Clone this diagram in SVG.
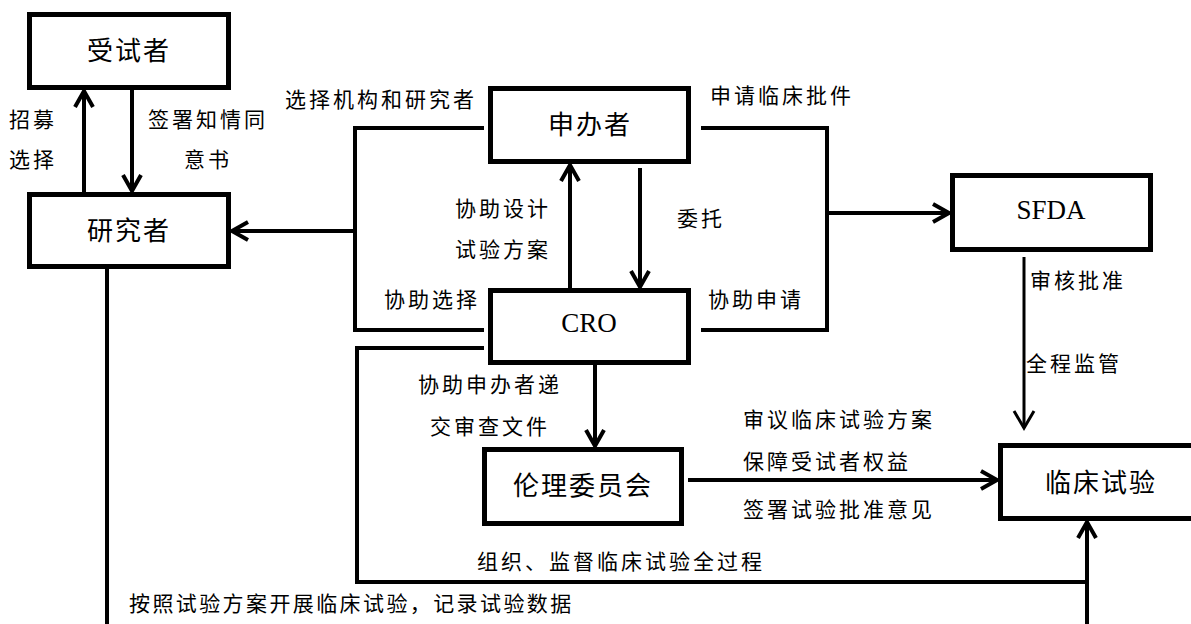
<svg xmlns="http://www.w3.org/2000/svg" width="1191" height="624" viewBox="0 0 1191 624">
<defs>
<style>
.box{fill:#fff;stroke:#000;stroke-width:5}
.ln{fill:none;stroke:#000;stroke-width:4}
.thin{fill:none;stroke:#000;stroke-width:3}
.lbl{font-family:"Noto Sans CJK SC",sans-serif;font-size:21px;letter-spacing:3px;fill:#000;dominant-baseline:central}
.nl{font-family:"Noto Sans CJK SC",sans-serif;font-size:26px;letter-spacing:2px;fill:#000;dominant-baseline:central;text-anchor:middle}
.en{font-family:"Liberation Serif",serif;font-size:27px;fill:#000;dominant-baseline:central;text-anchor:middle}
</style>
<marker id="ah" viewBox="0 0 20 20" refX="18" refY="10" markerWidth="20" markerHeight="20" markerUnits="userSpaceOnUse" orient="auto" overflow="visible">
<path d="M2,1 L18,10 L2,19" fill="none" stroke="#000" stroke-width="4"/>
</marker>
<marker id="ah2" viewBox="0 0 20 20" refX="18" refY="10" markerWidth="20" markerHeight="20" markerUnits="userSpaceOnUse" orient="auto" overflow="visible">
<path d="M1,0 L18,10 L1,20" fill="none" stroke="#000" stroke-width="3"/>
</marker>
</defs>
<rect width="1191" height="624" fill="#fff"/>
<g id="connectors">
<path class="ln" d="M84,192 V91" marker-end="url(#ah)"/>
<path class="ln" d="M132,90 V191" marker-end="url(#ah)"/>
<path class="ln" d="M484,128 H355 V330 H484"/>
<path class="ln" d="M355,231 H232" marker-end="url(#ah)"/>
<path class="ln" d="M701,128 H827 V330 H701"/>
<path class="ln" d="M827,213 H949" marker-end="url(#ah)"/>
<path class="ln" d="M570,288 V165" marker-end="url(#ah)"/>
<path class="ln" d="M640,168 V287" marker-end="url(#ah)"/>
<path class="ln" d="M595,365 V446" marker-end="url(#ah)"/>
<path class="ln" d="M688,480 H997" marker-end="url(#ah)"/>
<path class="thin" d="M1024,257 V428" marker-end="url(#ah2)"/>
<path class="ln" d="M484,348 H357 V582 H1089"/>
<path class="ln" d="M1087,624 V522" marker-end="url(#ah)"/>
<path class="ln" d="M107,269 V624"/>
</g>
<g id="node-subject"><rect class="box" x="29.5" y="14.5" width="199" height="73"/><text class="nl" x="129" y="48">受试者</text></g>
<g id="node-investigator"><rect class="box" x="29.5" y="194.5" width="199" height="72"/><text class="nl" x="129" y="228">研究者</text></g>
<g id="node-sponsor"><rect class="box" x="490.5" y="88.5" width="198" height="73"/><text class="nl" x="590" y="122">申办者</text></g>
<g id="node-cro"><rect class="box" x="490.5" y="290.5" width="198" height="72"/><text class="en" x="589" y="323">CRO</text></g>
<g id="node-sfda"><rect class="box" x="952.5" y="175.5" width="198" height="74"/><text class="en" x="1051" y="210">SFDA</text></g>
<g id="node-ethics"><rect class="box" x="484.5" y="449.5" width="197" height="74"/><text class="nl" x="583" y="483">伦理委员会</text></g>
<g id="node-trial"><rect class="box" x="1000.5" y="445.5" width="198" height="73"/><text class="nl" x="1101" y="480">临床试验</text></g>
<g id="labels">
<text class="lbl" x="9" y="118">招募</text>
<text class="lbl" x="9" y="158">选择</text>
<text class="lbl" x="148" y="118">签署知情同</text>
<text class="lbl" x="184" y="158">意书</text>
<text class="lbl" x="285" y="98">选择机构和研究者</text>
<text class="lbl" x="710" y="94">申请临床批件</text>
<text class="lbl" x="455" y="207">协助设计</text>
<text class="lbl" x="455" y="248">试验方案</text>
<text class="lbl" x="677" y="217">委托</text>
<text class="lbl" x="384" y="298">协助选择</text>
<text class="lbl" x="708" y="298">协助申请</text>
<text class="lbl" x="1030" y="279">审核批准</text>
<text class="lbl" x="1026" y="362">全程监管</text>
<text class="lbl" x="418" y="383">协助申办者递</text>
<text class="lbl" x="430" y="425">交审查文件</text>
<text class="lbl" x="743" y="418">审议临床试验方案</text>
<text class="lbl" x="743" y="460">保障受试者权益</text>
<text class="lbl" x="743" y="508">签署试验批准意见</text>
<text class="lbl" x="477" y="560">组织、监督临床试验全过程</text>
<text class="lbl" x="129" y="602" style="letter-spacing:2.4px">按照试验方案开展临床试验，记录试验数据</text>
</g>
</svg>
